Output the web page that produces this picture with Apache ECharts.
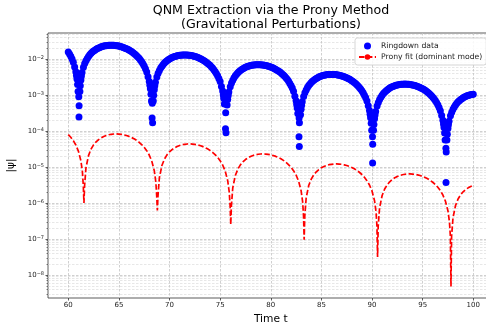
<!DOCTYPE html>
<html><head><meta charset="utf-8">
<script src="https://cdn.jsdelivr.net/npm/echarts@6/dist/echarts.min.js"></script>
<style>html,body{margin:0;padding:0;background:#fff}#c{width:486px;height:331px}</style>
</head><body><div id="c"></div>
<script>
// Ringdown data (blue dots): times and |psi|
const ringdownT = [60,60.25,60.5,60.75,61.25,61.5,61.75,62,62.25,62.5,62.75,63,63.25,63.5,63.75,64,64.25,64.5,64.75,65,65.25,65.5,65.75,66,66.25,66.5,66.75,67,67.25,67.5,67.75,68,
68.5,68.75,69,69.25,69.5,69.75,70,70.25,70.5,70.75,71,71.25,71.5,71.75,72,72.25,72.5,72.75,73,73.25,73.5,73.75,74,74.25,74.5,74.75,75,75.25,
75.75,76,76.25,76.5,76.75,77,77.25,77.5,77.75,78,78.25,78.5,78.75,79,79.25,79.5,79.75,80,80.25,80.5,80.75,81,81.25,81.5,81.75,82,82.25,82.5,
83,83.25,83.5,83.75,84,84.25,84.5,84.75,85,85.25,85.5,85.75,86,86.25,86.5,86.75,87,87.25,87.5,87.75,88,88.25,88.5,88.75,89,89.25,89.5,89.75,
90.25,90.5,90.75,91,91.25,91.5,91.75,92,92.25,92.5,92.75,93,93.25,93.5,93.75,94,94.25,94.5,94.75,95,95.25,95.5,95.75,96,96.25,96.5,96.75,97,
97.5,97.75,98,98.25,98.5,98.75,99,99.25,99.5,99.75,100];
const ringdownPsi = [1.57e-2,1.19e-2,8.15e-3,4.45e-3,2.62e-3,5.90e-3,8.98e-3,1.18e-2,1.44e-2,1.67e-2,1.87e-2,2.04e-2,2.18e-2,2.29e-2,2.36e-2,2.40e-2,2.42e-2,2.40e-2,2.36e-2,2.29e-2,2.19e-2,2.07e-2,1.94e-2,1.78e-2,1.62e-2,1.43e-2,1.24e-2,1.05e-2,8.44e-3,6.41e-3,4.38e-3,2.39e-3,
1.41e-3,3.17e-3,4.83e-3,6.36e-3,7.74e-3,8.98e-3,1.01e-2,1.10e-2,1.17e-2,1.23e-2,1.27e-2,1.29e-2,1.30e-2,1.29e-2,1.27e-2,1.23e-2,1.18e-2,1.12e-2,1.04e-2,9.59e-3,8.68e-3,7.70e-3,6.68e-3,5.62e-3,4.54e-3,3.44e-3,2.36e-3,1.29e-3,
7.56e-4,1.70e-3,2.59e-3,3.42e-3,4.16e-3,4.83e-3,5.40e-3,5.89e-3,6.30e-3,6.60e-3,6.82e-3,6.95e-3,6.98e-3,6.94e-3,6.81e-3,6.60e-3,6.33e-3,5.99e-3,5.60e-3,5.15e-3,4.67e-3,4.14e-3,3.59e-3,3.02e-3,2.44e-3,1.85e-3,1.27e-3,6.91e-4,
4.06e-4,9.16e-4,1.39e-3,1.84e-3,2.24e-3,2.59e-3,2.90e-3,3.17e-3,3.38e-3,3.55e-3,3.66e-3,3.73e-3,3.75e-3,3.73e-3,3.66e-3,3.55e-3,3.40e-3,3.22e-3,3.01e-3,2.77e-3,2.51e-3,2.23e-3,1.93e-3,1.62e-3,1.31e-3,9.94e-4,6.80e-4,3.71e-4,
2.18e-4,4.92e-4,7.49e-4,9.86e-4,1.20e-3,1.39e-3,1.56e-3,1.70e-3,1.82e-3,1.91e-3,1.97e-3,2.01e-3,2.02e-3,2.00e-3,1.97e-3,1.91e-3,1.83e-3,1.73e-3,1.62e-3,1.49e-3,1.35e-3,1.20e-3,1.04e-3,8.72e-4,7.04e-4,5.34e-4,3.65e-4,1.99e-4,
1.17e-4,2.65e-4,4.03e-4,5.30e-4,6.46e-4,7.49e-4,8.39e-4,9.15e-4,9.77e-4,1.02e-3,1.06e-3];
// Ringdown samples between the above (denser sampling)
const ringdownMidT = [60.125,60.375,61.625,61.875,62.125,62.375,62.625,62.875,63.125,63.375,63.625,63.875,64.125,64.375,64.625,64.875,65.125,65.375,65.625,65.875,66.125,66.375,66.625,66.875,67.125,67.375,67.625,
68.875,69.125,69.375,69.625,69.875,70.125,70.375,70.625,70.875,71.125,71.375,71.625,71.875,72.125,72.375,72.625,72.875,73.125,73.375,73.625,73.875,74.125,74.375,74.625,74.875,
76.125,76.375,76.625,76.875,77.125,77.375,77.625,77.875,78.125,78.375,78.625,78.875,79.125,79.375,79.625,79.875,80.125,80.375,80.625,80.875,81.125,81.375,81.625,81.875,82.125,
83.375,83.625,83.875,84.125,84.375,84.625,84.875,85.125,85.375,85.625,85.875,86.125,86.375,86.625,86.875,87.125,87.375,87.625,87.875,88.125,88.375,88.625,88.875,89.125,89.375,
90.625,90.875,91.125,91.375,91.625,91.875,92.125,92.375,92.625,92.875,93.125,93.375,93.625,93.875,94.125,94.375,94.625,94.875,95.125,95.375,95.625,95.875,96.125,96.375,96.625,
97.875,98.125,98.375,98.625,98.875,99.125,99.375,99.625,99.875];
const ringdownMidPsi = [1.38e-2,1.00e-2,7.47e-3,1.04e-2,1.31e-2,1.56e-2,1.77e-2,1.96e-2,2.11e-2,2.24e-2,2.33e-2,2.39e-2,2.41e-2,2.41e-2,2.38e-2,2.33e-2,2.24e-2,2.14e-2,2.01e-2,1.86e-2,1.70e-2,1.53e-2,1.34e-2,1.14e-2,9.45e-3,7.42e-3,5.39e-3,
4.01e-3,5.61e-3,7.07e-3,8.38e-3,9.54e-3,1.05e-2,1.14e-2,1.20e-2,1.25e-2,1.28e-2,1.30e-2,1.30e-2,1.28e-2,1.25e-2,1.21e-2,1.15e-2,1.08e-2,1.00e-2,9.14e-3,8.20e-3,7.20e-3,6.15e-3,5.08e-3,3.99e-3,2.90e-3,
2.16e-3,3.01e-3,3.80e-3,4.50e-3,5.13e-3,5.66e-3,6.11e-3,6.46e-3,6.72e-3,6.89e-3,6.97e-3,6.97e-3,6.88e-3,6.71e-3,6.48e-3,6.17e-3,5.80e-3,5.38e-3,4.91e-3,4.41e-3,3.87e-3,3.31e-3,2.73e-3,2.14e-3,1.56e-3,
1.16e-3,1.62e-3,2.04e-3,2.42e-3,2.75e-3,3.04e-3,3.28e-3,3.47e-3,3.61e-3,3.70e-3,3.75e-3,3.75e-3,3.70e-3,3.61e-3,3.48e-3,3.32e-3,3.12e-3,2.89e-3,2.64e-3,2.37e-3,2.08e-3,1.78e-3,1.47e-3,1.15e-3,8.37e-4,
6.23e-4,8.70e-4,1.10e-3,1.30e-3,1.48e-3,1.64e-3,1.76e-3,1.87e-3,1.94e-3,1.99e-3,2.01e-3,2.01e-3,1.99e-3,1.94e-3,1.87e-3,1.78e-3,1.68e-3,1.55e-3,1.42e-3,1.27e-3,1.12e-3,9.55e-4,7.88e-4,6.19e-4,4.50e-4,
3.35e-4,4.68e-4,5.89e-4,6.99e-4,7.95e-4,8.79e-4,9.48e-4,1.00e-3,1.04e-3];
// Ringdown samples close to the nodes (steep flanks and isolated dots)
const nodeT = [60.63,60.81,60.86,60.92,60.97,61.15,61.19,61.30,61.36,61.04,61.07,61.06,
67.88,68.06,68.11,68.17,68.22,68.40,68.44,68.55,68.61,68.30,68.28,68.33,
75.13,75.31,75.36,75.42,75.69,75.80,75.86,75.55,75.53,75.58,
82.38,82.56,82.61,82.67,82.94,83.05,83.11,82.80,82.83,82.79,82.82,
89.63,89.81,89.86,89.92,89.97,90.15,90.19,90.30,90.36,90.05,90.07,90.06,
96.88,97.06,97.11,97.17,97.22,97.40,97.44,97.55,97.61,97.30,97.33,97.31];
const nodePsi = [6.00e-3,3.50e-3,2.80e-3,1.96e-3,1.26e-3,1.26e-3,1.82e-3,3.36e-3,4.20e-3,8.9e-4,5.0e-4,2.45e-4,
3.22e-3,1.88e-3,1.50e-3,1.05e-3,6.78e-4,6.78e-4,9.80e-4,1.80e-3,2.25e-3,5.9e-4,2.3e-4,1.7e-4,
1.73e-3,1.01e-3,8.07e-4,5.66e-4,5.26e-4,9.68e-4,1.21e-3,3.2e-4,1.15e-4,8.9e-5,
9.31e-4,5.43e-4,4.35e-4,3.05e-4,2.83e-4,5.21e-4,6.52e-4,2.3e-4,1.7e-4,6.9e-5,3.7e-5,
5.00e-4,2.92e-4,2.33e-4,1.64e-4,1.05e-4,1.05e-4,1.52e-4,2.80e-4,3.50e-4,6.9e-5,4.3e-5,1.3e-5,
2.69e-4,1.57e-4,1.25e-4,8.79e-5,5.65e-5,5.65e-5,8.17e-5,1.50e-4,1.88e-4,3.3e-5,2.6e-5,3.7e-6];
// Prony fit (red dashed line)
const pronyT = [60,60.25,60.5,60.75,61,61.25,61.40,61.49,61.55,61.61,61.75,62,62.25,62.5,62.75,63,63.25,63.5,63.75,64,64.25,64.5,64.75,65,65.25,65.5,65.75,66,66.25,66.5,66.75,67,67.25,67.5,67.75,68,68.25,68.5,
68.65,68.74,68.80,68.86,69,69.25,69.5,69.75,70,70.25,70.5,70.75,71,71.25,71.5,71.75,72,72.25,72.5,72.75,73,73.25,73.5,73.75,74,74.25,74.5,74.75,75,75.25,75.5,75.75,
75.90,75.99,76.05,76.11,76.25,76.5,76.75,77,77.25,77.5,77.75,78,78.25,78.5,78.75,79,79.25,79.5,79.75,80,80.25,80.5,80.75,81,81.25,81.5,81.75,82,82.25,82.5,82.75,83,
83.15,83.24,83.30,83.36,83.5,83.75,84,84.25,84.5,84.75,85,85.25,85.5,85.75,86,86.25,86.5,86.75,87,87.25,87.5,87.75,88,88.25,88.5,88.75,89,89.25,89.5,89.75,90,90.25,
90.40,90.49,90.55,90.61,90.75,91,91.25,91.5,91.75,92,92.25,92.5,92.75,93,93.25,93.5,93.75,94,94.25,94.5,94.75,95,95.25,95.5,95.75,96,96.25,96.5,96.75,97,97.25,97.5,
97.65,97.74,97.80,97.86,98,98.25,98.5,98.75,99,99.25,99.5,99.75,100];
const pronyPsi = [7.98e-5,6.70e-5,5.40e-5,4.08e-5,2.77e-5,1.49e-5,7.28e-6,2.91e-6,1.0e-6,2.91e-6,9.52e-6,2.08e-5,3.14e-5,4.12e-5,5.00e-5,5.78e-5,6.46e-5,7.04e-5,7.51e-5,7.87e-5,8.12e-5,8.26e-5,8.30e-5,8.23e-5,8.07e-5,7.82e-5,7.49e-5,7.08e-5,6.60e-5,6.07e-5,5.49e-5,4.87e-5,4.21e-5,3.53e-5,2.85e-5,2.15e-5,1.46e-5,7.86e-6,
3.84e-6,1.53e-6,6.17e-7,1.53e-6,5.02e-6,1.10e-5,1.66e-5,2.17e-5,2.64e-5,3.05e-5,3.41e-5,3.72e-5,3.96e-5,4.15e-5,4.28e-5,4.36e-5,4.38e-5,4.34e-5,4.26e-5,4.13e-5,3.95e-5,3.74e-5,3.49e-5,3.20e-5,2.90e-5,2.57e-5,2.22e-5,1.87e-5,1.50e-5,1.14e-5,7.72e-6,4.15e-6,
2.02e-6,8.09e-7,2.51e-7,8.09e-7,2.65e-6,5.80e-6,8.75e-6,1.15e-5,1.39e-5,1.61e-5,1.80e-5,1.96e-5,2.09e-5,2.19e-5,2.26e-5,2.30e-5,2.31e-5,2.29e-5,2.25e-5,2.18e-5,2.08e-5,1.97e-5,1.84e-5,1.69e-5,1.53e-5,1.35e-5,1.17e-5,9.84e-6,7.93e-6,5.99e-6,4.08e-6,2.19e-6,
1.07e-6,4.28e-7,9.55e-8,4.28e-7,1.40e-6,3.06e-6,4.62e-6,6.05e-6,7.35e-6,8.50e-6,9.50e-6,1.03e-5,1.10e-5,1.16e-5,1.19e-5,1.21e-5,1.22e-5,1.21e-5,1.19e-5,1.15e-5,1.10e-5,1.04e-5,9.70e-6,8.92e-6,8.06e-6,7.15e-6,6.19e-6,5.19e-6,4.18e-6,3.16e-6,2.15e-6,1.16e-6,
5.64e-7,2.25e-7,3.16e-8,2.25e-7,7.38e-7,1.62e-6,2.44e-6,3.19e-6,3.88e-6,4.48e-6,5.01e-6,5.46e-6,5.82e-6,6.10e-6,6.29e-6,6.40e-6,6.43e-6,6.38e-6,6.25e-6,6.06e-6,5.80e-6,5.49e-6,5.12e-6,4.71e-6,4.25e-6,3.77e-6,3.27e-6,2.74e-6,2.21e-6,1.67e-6,1.13e-6,6.09e-7,
2.97e-7,1.19e-7,4.79e-9,1.19e-7,3.89e-7,8.52e-7,1.29e-6,1.68e-6,2.05e-6,2.36e-6,2.64e-6,2.88e-6,3.07e-6];

const xTicks = [60,65,70,75,80,85,90,95,100];
const yDecades = [-8,-7,-6,-5,-4,-3,-2];
const minorMultipliers = [2,3,4,5,6,7,8,9];
const titleText = 'QNM Extraction via the Prony Method\n(Gravitational Perturbations)';
const xName = 'Time t';
const yName = '|ψ|';
const seriesNames = ['Ringdown data', 'Prony fit (dominant mode)'];

const FONT = 'DejaVu Sans';
const yMin = -8.64, yMax = -1.276;
const minorVals = [];
for (let k = -9; k <= -2; k++) {
  minorMultipliers.forEach(m => {
    const v = k + Math.log10(m);
    if (v > yMin && v < yMax) minorVals.push(v);
  });
}
const toPts = (ts, vs) => ts.map((t, i) => [t, Math.log10(vs[i])]);
const blueData = toPts(ringdownT, ringdownPsi)
  .concat(toPts(ringdownMidT, ringdownMidPsi))
  .concat(toPts(nodeT, nodePsi));
const redData = toPts(pronyT, pronyPsi);

const chart = echarts.init(document.getElementById('c'), null, {renderer: 'canvas'});
chart.setOption({
  animation: false,
  backgroundColor: '#fff',
  textStyle: {fontFamily: FONT},
  title: {
    text: titleText, left: 271, top: 4, padding: 0, textAlign: 'center',
    textStyle: {fontFamily: FONT, fontSize: 12.6, fontWeight: 'normal', color: '#000', lineHeight: 13.5}
  },
  legend: {
    orient: 'vertical', left: 355, top: 38, padding: [3, 4, 3, 3],
    itemWidth: 17, itemHeight: 7, itemGap: 1,
    backgroundColor: 'rgba(255,255,255,0.85)', borderColor: '#cccccc', borderWidth: 0.8, borderRadius: 2.5,
    textStyle: {fontFamily: FONT, fontSize: 7.7, color: '#222', lineHeight: 10},
    data: [{name: seriesNames[0], icon: 'circle'}, {name: seriesNames[1]}]
  },
  grid: {left: 48, top: 33, right: -7.5, bottom: 33, show: true, borderColor: '#333', borderWidth: 0.8,
         containLabel: false, outerBoundsMode: 'none'},
  xAxis: {
    type: 'value', min: 58, max: 102,
    axisLine: {show: false},
    axisTick: {show: true, customValues: xTicks, length: 2.5, lineStyle: {color: '#333', width: 0.8}},
    axisLabel: {customValues: xTicks, fontFamily: FONT, fontSize: 7, color: '#222', margin: 4},
    splitLine: {show: true, lineStyle: {color: '#c4c4c4', width: 0.8, type: [2.5, 1.5]}},
    name: xName, nameLocation: 'middle', nameGap: 15,
    nameTextStyle: {fontFamily: FONT, fontSize: 10.7, color: '#000'}
  },
  yAxis: [{
    type: 'value', min: yMin, max: yMax,
    axisLine: {show: false},
    axisTick: {show: true, customValues: yDecades, length: 2.5, lineStyle: {color: '#333', width: 0.8}},
    axisLabel: {
      customValues: yDecades, margin: 4,
      formatter: v => '{b|10}{s|\u2212' + Math.round(-v) + '}',
      rich: {
        b: {fontFamily: FONT, fontSize: 7, color: '#222', verticalAlign: 'bottom'},
        s: {fontFamily: FONT, fontSize: 5, color: '#222', verticalAlign: 'top', padding: [0, 0, 3, 0]}
      }
    },
    splitLine: {show: true, lineStyle: {color: '#c4c4c4', width: 0.8, type: [2.5, 1.5]}},
    name: yName, nameLocation: 'middle', nameGap: 30, nameRotate: 90,
    nameTextStyle: {fontFamily: FONT, fontSize: 10.5, color: '#000'}
  }, {
    type: 'value', min: yMin, max: yMax, position: 'left', offset: 0,
    axisLine: {show: false}, axisLabel: {show: false},
    axisTick: {show: true, customValues: minorVals, length: 1.5, lineStyle: {color: '#333', width: 0.6}},
    splitLine: {show: true, lineStyle: {color: '#d6d6d6', width: 0.6, type: [2.5, 1.5]}}
  }],
  series: [{
    name: seriesNames[0], type: 'scatter', yAxisIndex: 0, symbol: 'circle', symbolSize: 7,
    itemStyle: {color: '#0000ff', opacity: 1}, data: blueData, z: 3
  }, {
    name: seriesNames[1], type: 'line', yAxisIndex: 0, symbol: 'none', showSymbol: false,
    lineStyle: {color: '#ff0000', width: 1.7, type: [5.5, 2.4]}, itemStyle: {color: '#ff0000'},
    data: redData, z: 4
  }]
});
</script>
</body></html>
